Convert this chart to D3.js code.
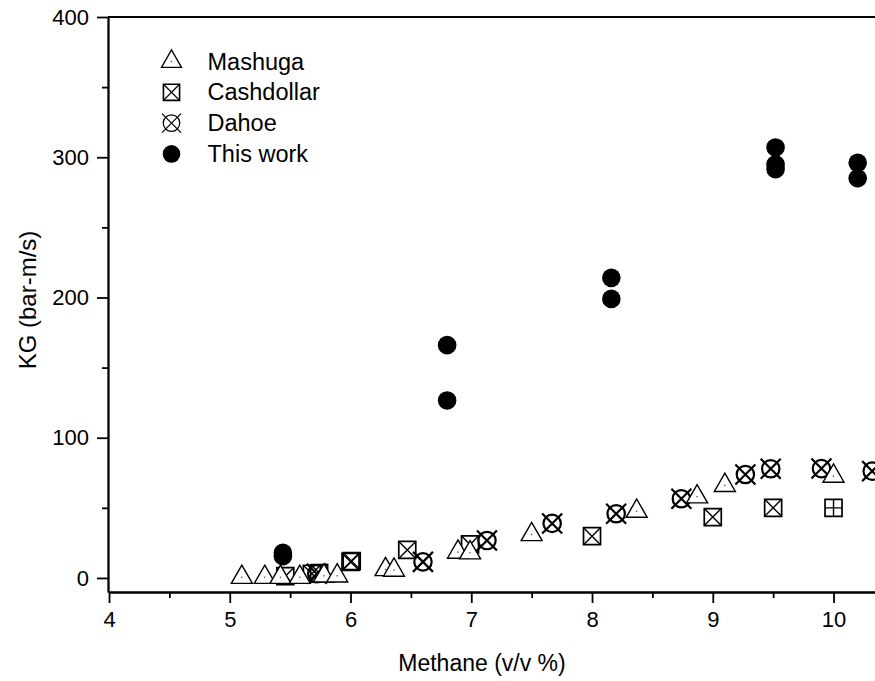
<!DOCTYPE html>
<html>
<head>
<meta charset="utf-8">
<script src="https://cdn.jsdelivr.net/npm/d3@7"></script>
<style>
  body { margin: 0; background: #fff; }
  svg text { font-family: "Liberation Sans", Arial, sans-serif; fill: #000; }
</style>
</head>
<body>
<script>
// data: [methane %, KG]
const mashuga = [
  [5.10, 0.5], [5.29, 0.5], [5.42, 0.5], [5.58, 0.5], [5.78, 1.5], [5.89, 1.5],
  [6.29, 6], [6.36, 5.6], [6.89, 18.4], [6.99, 18], [7.50, 31], [8.37, 47.6],
  [8.87, 57.9], [9.10, 66], [10.0, 72.6]
];
const cashdollar = [
  [5.46, 1.3], [5.68, 3], [5.74, 3.5], [6.0, 11.5], [6.01, 12], [6.47, 20],
  [6.99, 23.9], [8.0, 29.8], [9.0, 43.4], [9.50, 50]
];
const cashdollarPlus = [[10.0, 50]];
const dahoe = [
  [5.72, 3], [6.60, 11.5], [7.13, 26.7], [7.67, 38.9], [8.20, 45.8], [8.74, 56.5],
  [9.27, 73.8], [9.48, 77.9], [9.90, 78], [10.32, 76.2]
];
const thisWork = [
  [5.44, 18], [5.44, 15.5], [6.80, 166], [6.80, 126.6], [8.16, 214], [8.16, 199],
  [9.52, 307], [9.52, 295], [9.52, 291.5], [10.20, 296], [10.20, 285]
];
const xMajor = [4, 5, 6, 7, 8, 9, 10];
const xMinor = [4.5, 5.5, 6.5, 7.5, 8.5, 9.5];
const yMajor = [0, 100, 200, 300, 400];
const yMinor = [50, 150, 250, 350];
const legendNames = ["Mashuga", "Cashdollar", "Dahoe", "This work"];

const width = 875, height = 681;

const svg = d3.select('body')
    .append("svg")
        .attr("width", width)
        .attr("height", height)

const x = d3.scaleLinear()
    .domain([4, 10.36])
    .range([109, 877]);

const y = d3.scaleLinear()
    .domain([-10, 400])
    .range([592, 17]);

// axes
const axStroke = 1.8;

svg.append("g")
    .attr("transform", "translate(0,592)")
    .call(d3.axisBottom(x).tickValues(xMinor).tickFormat("").tickSize(6).tickSizeOuter(0))
svg.append("g")
    .attr("transform", "translate(0,592)")
    .call(d3.axisBottom(x).tickValues(xMajor).tickFormat(d3.format("d")).tickSize(11).tickPadding(8).tickSizeOuter(0))

svg.append("g")
    .attr("transform", "translate(108,0)")
    .call(d3.axisLeft(y).tickValues(yMinor).tickFormat("").tickSize(6).tickSizeOuter(0))
svg.append("g")
    .attr("transform", "translate(108,0)")
    .call(d3.axisLeft(y).tickValues(yMajor).tickFormat(d3.format("d")).tickSize(11).tickPadding(8).tickSizeOuter(0))

svg.selectAll(".domain, .tick line")
    .attr("stroke", "#000")
    .attr("stroke-width", axStroke)
svg.selectAll(".tick text")
    .style("font-size", "22px")
    .style("font-family", "'Liberation Sans', Arial, sans-serif")

// top spine
svg.append("line")
    .attr("x1", 108).attr("x2", 877)
    .attr("y1", 17).attr("y2", 17)
    .attr("stroke", "#000")
    .attr("stroke-width", axStroke)

// axis titles
svg.append("text")
    .attr("x", 482)
    .attr("y", 671)
    .attr("text-anchor", "middle")
    .style("font-size", "23px")
    .text("Methane (v/v %)")

svg.append("text")
    .attr("transform", "translate(36,300) rotate(-90)")
    .attr("text-anchor", "middle")
    .style("font-size", "24px")
    .text("KG (bar-m/s)")

// marker shapes
const triPath = "M0,-12.2L10.5,6.1L-10.5,6.1Z";
const sqPath = "M-8.5,-8.5H8.5V8.5H-8.5Z";
const sqCross = "M-8.5,-8.5L8.5,8.5M8.5,-8.5L-8.5,8.5";
const sqPlus = "M0,-8.5V8.5M-8.5,0H8.5";
const dahoeX = "M-10,-10L10,10M10,-10L-10,10";

function drawTriangle(g) {
    g.append("path").attr("d", triPath)
        .attr("fill", "#fff").attr("stroke", "#000").attr("stroke-width", 1.4)
    g.append("circle").attr("r", 0.8).attr("fill", "#555")
}
function drawSquare(g, inner) {
    g.append("path").attr("d", sqPath)
        .attr("fill", "none").attr("stroke", "#000").attr("stroke-width", 1.7)
    g.append("path").attr("d", inner)
        .attr("fill", "none").attr("stroke", "#000").attr("stroke-width", 1.4)
}
function drawDahoe(g, w = 2.2) {
    g.append("circle").attr("r", 8.7)
        .attr("fill", "none").attr("stroke", "#000").attr("stroke-width", w)
    g.append("path").attr("d", dahoeX)
        .attr("stroke", "#000").attr("stroke-width", w)
}
function drawDot(g) {
    g.append("circle").attr("r", 9.3).attr("fill", "#000")
}

function plotSeries(data, drawer) {
    svg.append("g").selectAll("g")
        .data(data)
        .enter().append("g")
            .attr("transform", d => `translate(${x(d[0])},${y(d[1])})`)
            .each(function() { drawer(d3.select(this)) })
}

plotSeries(cashdollar, g => drawSquare(g, sqCross))
plotSeries(cashdollarPlus, g => drawSquare(g, sqPlus))
plotSeries(dahoe, g => drawDahoe(g))
plotSeries(mashuga, drawTriangle)
plotSeries(thisWork, drawDot)

// legend
const legendDrawers = [drawTriangle, g => drawSquare(g, sqCross), g => drawDahoe(g, 1.3), drawDot];
const legend = svg.append("g")
    .selectAll("g")
    .data(legendNames)
    .enter().append("g")
        .attr("transform", (d, i) => `translate(171.5,${61.5 + i * 30.8})`)

legend.each(function(d, i) {
    const g = d3.select(this);
    const m = g.append("g").attr("transform", "scale(0.95)");
    legendDrawers[i](m);
    g.append("text")
        .attr("x", 36)
        .attr("y", 8)
        .style("font-size", "23.5px")
        .text(d)
})
</script>
</body>
</html>
